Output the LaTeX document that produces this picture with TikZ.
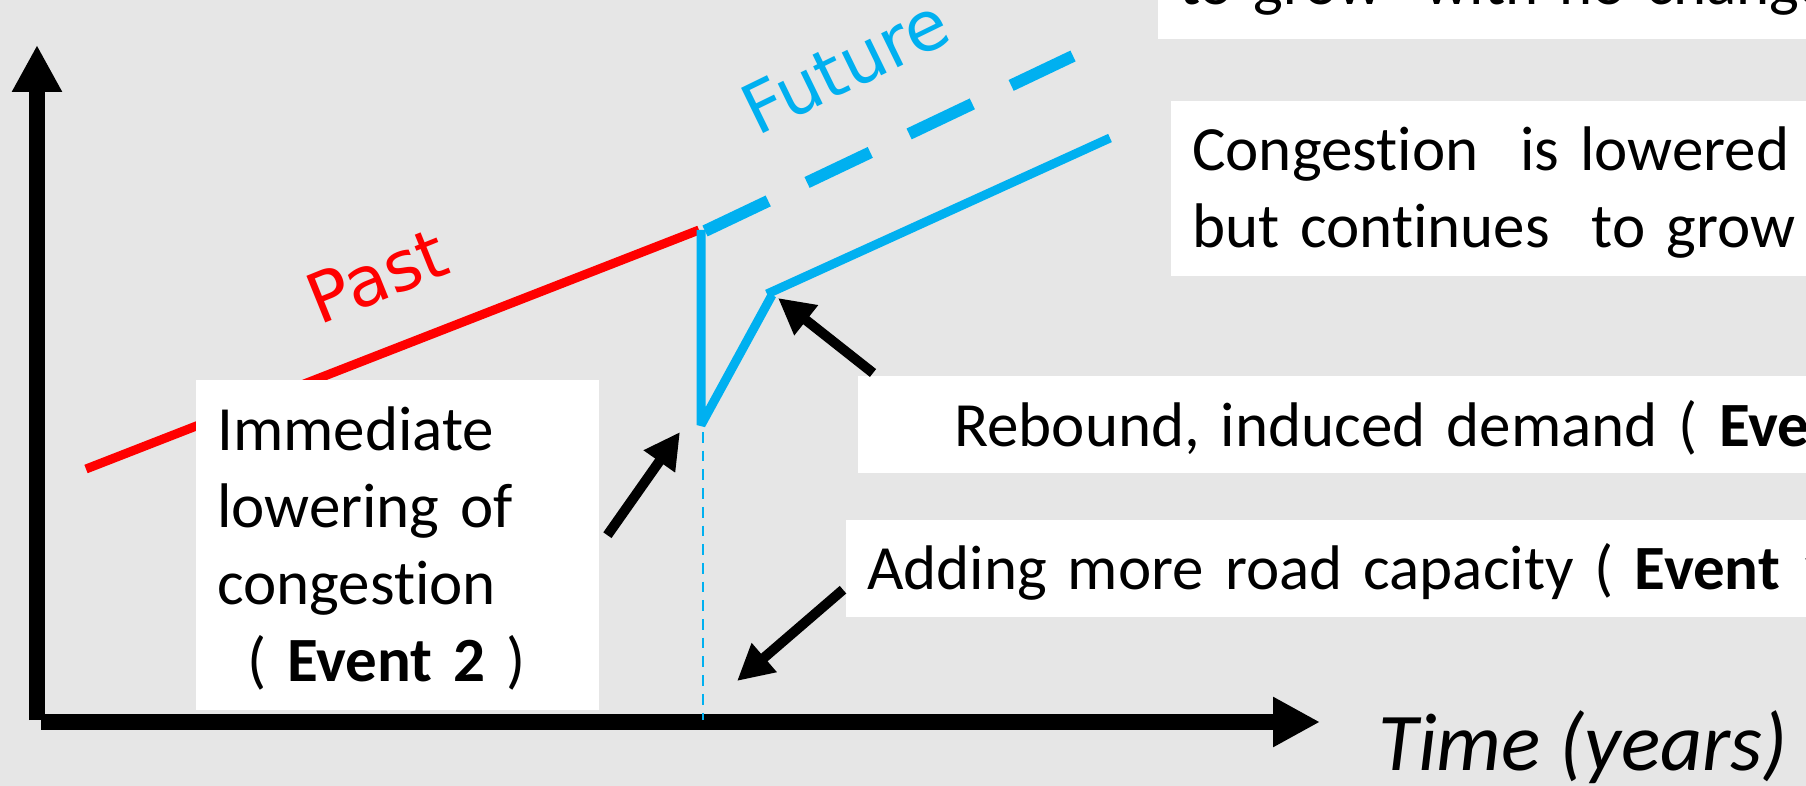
\documentclass[tikz,border=0pt]{standalone}
\usepackage{fontspec}
\setmainfont{Carlito}[Ligatures=NoCommon]
\newfontfamily\slopefont{DejaVu Sans}
\usetikzlibrary{arrows.meta,positioning,calc}

\definecolor{bggray}{HTML}{E6E6E6}
\definecolor{skyblue}{HTML}{00B0F0}

\tikzset{axis/.style={line width=16pt,-{Triangle[length=47pt,width=47pt]}}}
\tikzset{pointer/.style={line width=10pt,-{Triangle[length=36pt,width=36pt]}}}
\tikzset{pastline/.style={red,line width=9pt}}
\tikzset{futureline/.style={skyblue,line width=9pt,line join=bevel}}
\tikzset{note/.style={fill=white,anchor=north west,inner xsep=21pt,inner ysep=0pt,
    align=left,font=\fontsize{63}{77}\selectfont}}
\tikzset{slopelabel/.style={font=\slopefont\fontsize{69}{80}\selectfont,inner sep=0pt}}

\begin{document}
\begin{tikzpicture}[x=1pt,y=-1pt]
  % canvas, measured in pixels from the top left corner
  \clip (0,0) rectangle (1806,786);
  \fill[bggray] (0,0) rectangle (1806,786);

  % axes
  \draw[axis] (37,720) -- (37,45);
  \draw[axis] (41,722) -- (1320,722);

  % points on the trend
  \coordinate (jump) at (701,230);
  \coordinate (dip) at (701,425);
  \coordinate (kink) at (772,295);
  \coordinate (trendend) at (1110,138);

  % past and expected future
  \draw[pastline] (86,469) -- (699,230);
  \draw[skyblue,line width=12pt,dash pattern=on 70pt off 43pt] (705,231) -- (1073,56);

  % what happens after the new capacity
  \draw[futureline] (jump) -- (dip) -- (kink);
  \draw[futureline] ([xshift=-5pt,yshift=1pt]kink) -- (trendend);
  \draw[skyblue,line width=2.7pt,dash pattern=on 10.7pt off 8pt] (703,432) -- (703,720);

  \node[slopelabel,text=red,rotate=22] (pastlabel) at (377,276) {Past};
  \node[slopelabel,text=skyblue,rotate=26] (futurelabel) at (845,66) {Future};

  % notes
  \node[note,anchor=south west,text width=1400pt,text height=60pt,text depth=34pt]
    (nochange) at (1158,39) {to grow\ \ with no change};
  \node[note,text width=1400pt,text height=69pt,text depth=106pt]
    (lowered) at (1171,101) {Congestion\ \ is lowered\\but continues\ \ to grow};
  \node[note,text width=1400pt,text height=70pt,text depth=27pt]
    (rebound) at (858,376) {\hspace*{75pt}Rebound, induced demand ( \textbf{Event 3} )};
  \node[note,text width=1400pt,text height=69pt,text depth=28pt]
    (adding) at (846,520) {Adding more road capacity ( \textbf{Event 1} )};
  \node[note,text width=361pt,text height=70pt,text depth=260pt]
    (immed) at (196,380) {Immediate\\lowering of\\congestion\\\hspace*{30pt}( \textbf{Event 2} )};

  \node[font=\itshape\fontsize{82}{98}\selectfont,anchor=base west,inner sep=0pt]
    (timelabel) at (1378,770) {Time (years)};

  % pointers
  \coordinate (kinktip) at (778,298);
  \coordinate (diptip) at (680,432);
  \coordinate (captip) at (737,681);
  \draw[pointer] ([xshift=15pt,yshift=3pt]rebound.north west) -- (kinktip);
  \draw[pointer] ([xshift=8pt,yshift=10pt]immed.east) -- (diptip);
  \draw[pointer] ([xshift=-3pt,yshift=-21pt]adding.west) -- (captip);
\end{tikzpicture}
\end{document}
